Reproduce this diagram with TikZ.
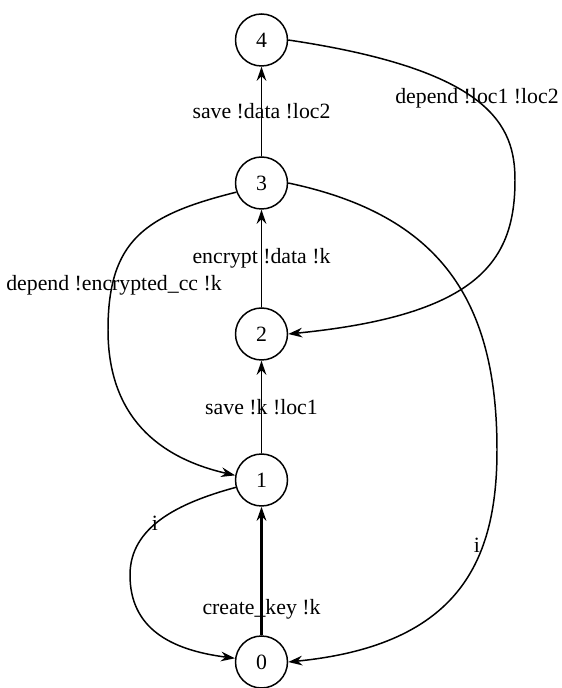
\documentclass[tikz,border=0pt]{standalone}
\usepackage{fontspec}
\setmainfont{Liberation Serif}
\usepackage{tikz}
\usetikzlibrary{arrows.meta,positioning}
\tikzset{
        state/.style={circle, draw, line width=0.85pt, minimum size=1.04cm, inner sep=0pt,
            font=\fontsize{12.4}{15}\selectfont},
        trans/.style={line width=0.85pt, -{Stealth[length=8pt, width=5.5pt]}},
        lbl/.style={inner sep=0pt, font=\fontsize{12.4}{15}\selectfont},
    }

\begin{document}
\begin{tikzpicture}[x = 1cm, on grid]
                \useasboundingbox (0,0) rectangle (11.22,13.76);
                \node[state] (n0) at (5.23,0.52) {0};
                \node[state, above=3.64cm of n0] (n1) {1};
                \node[state, above=2.92cm of n1] (n2) {2};
                \node[state, above=3.02cm of n2] (n3) {3};
                \node[state, above=2.86cm of n3] (n4) {4};
                \draw[trans, line width=1.5pt] (n0) -- node[lbl, pos=0.2] (l01) {create\_key !k} (n1);
                \draw[trans] (n1) -- node[lbl] (l12) {save !k !loc1} (n2);
                \draw[trans] (n2) -- node[lbl] (l23) {encrypt !data !k} (n3);
                \draw[trans] (n3) -- node[lbl] (l34) {save !data !loc2} (n4);
                \draw[trans] (n4.east) .. controls (9.8,12.36) and (10.3,11.26) .. (10.3,10.16)
                    .. controls (10.3,8.56) and (9.6,7.46) .. (n2.east);
                \draw[trans] (n3.200) .. controls (2.9,9.46) and (2.16,8.96) .. (2.16,7.16)
                    .. controls (2.16,5.42) and (3.18,4.6) .. (n1.170);
                \draw[trans] (n1.196) .. controls (3.56,3.7) and (2.6,3.22) .. (2.6,2.26)
                    .. controls (2.6,1.2) and (3.4,0.76) .. (n0.172);
                \draw[trans] (n3.east) .. controls (8.8,9.46) and (9.94,7.76) .. (9.94,4.76)
                    .. controls (9.94,2.56) and (9.2,0.86) .. (n0.east);
                \node[lbl] (l42) at (9.54,11.8) {depend !loc1 !loc2};
                \node[lbl] (l31) at (2.28,8.06) {depend !encrypted\_cc !k};
                \node[lbl] (l10) at (3.1,3.3) {i};
                \node[lbl] (l30) at (9.54,2.86) {i};
            \end{tikzpicture}
\end{document}
